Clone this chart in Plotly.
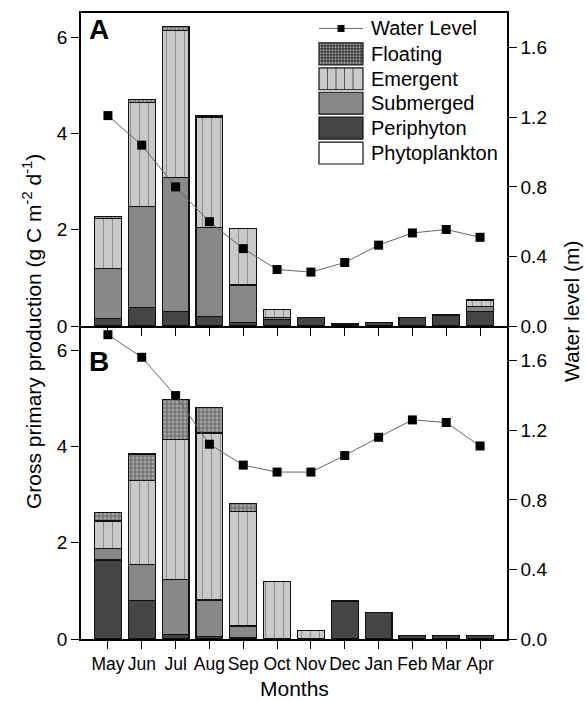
import plotly.graph_objects as go

# ---------------- data ----------------
months = ["May", "Jun", "Jul", "Aug", "Sep", "Oct", "Nov", "Dec", "Jan", "Feb", "Mar", "Apr"]

# Panel A
phyto_A = [0, 0, 0, 0, 0, 0, 0, 0, 0, 0, 0, 0]
peri_A = [0.16, 0.38, 0.30, 0.19, 0.08, 0.13, 0.18, 0.04, 0.08, 0.17, 0.23, 0.30]
sub_A = [1.03, 2.10, 2.78, 1.86, 0.77, 0.05, 0, 0, 0, 0, 0, 0.10]
emerg_A = [1.05, 2.16, 3.06, 2.28, 1.17, 0.17, 0, 0, 0, 0, 0, 0.14]
float_A = [0.03, 0.07, 0.08, 0.03, 0.01, 0, 0, 0, 0, 0, 0, 0]
water_A = [1.21, 1.04, 0.80, 0.60, 0.445, 0.325, 0.31, 0.365, 0.465, 0.535, 0.555, 0.51]

# Panel B
phyto_B = [0, 0, 0, 0, 0, 0, 0, 0, 0, 0, 0, 0]
peri_B = [1.64, 0.80, 0.10, 0.05, 0.03, 0, 0, 0.79, 0.55, 0.07, 0.07, 0.08]
sub_B = [0.24, 0.75, 1.14, 0.76, 0.24, 0, 0, 0, 0, 0, 0, 0]
emerg_B = [0.57, 1.74, 2.91, 3.47, 2.37, 1.20, 0.17, 0, 0, 0, 0, 0]
float_B = [0.18, 0.55, 0.82, 0.52, 0.18, 0, 0, 0, 0, 0, 0, 0]
water_B = [1.75, 1.62, 1.40, 1.12, 1.00, 0.96, 0.96, 1.055, 1.16, 1.26, 1.245, 1.11]

gpp_ticks = [0, 2, 4, 6]
wl_ticks = [0.0, 0.4, 0.8, 1.2, 1.6]

# ---------------- styles ----------------
FONT = "Arial, Liberation Sans, Helvetica, sans-serif"
C_PHYTO = "#ffffff"
C_PERI = "#454545"
C_SUB = "#888888"
C_EMERG = "#c9c9c9"
C_FLOAT_BG = "#a5a5a5"
C_FLOAT_FG = "#2a2a2a"
EDGE = dict(color="#111111", width=1.2)

W, H = 587, 701
L, R, T, B = 81, 507, 11, 639


def px(x):
    return (x - L) / (R - L)


def py(y):
    return (B - y) / (B - T)


fig = go.Figure()


def add_panel(xa, ya, ya_r, phyto, peri, sub, emerg, flo, water):
    fig.add_trace(go.Bar(x=months, y=phyto, name="Phytoplankton", xaxis=xa, yaxis=ya,
                         marker=dict(color=C_PHYTO, line=EDGE), showlegend=False))
    fig.add_trace(go.Bar(x=months, y=peri, name="Periphyton", xaxis=xa, yaxis=ya,
                         marker=dict(color=C_PERI, line=EDGE), showlegend=False))
    fig.add_trace(go.Bar(x=months, y=sub, name="Submerged", xaxis=xa, yaxis=ya,
                         marker=dict(color=C_SUB, line=EDGE), showlegend=False))
    fig.add_trace(go.Bar(x=months, y=emerg, name="Emergent", xaxis=xa, yaxis=ya,
                         marker=dict(color=C_EMERG, line=EDGE,
                                     pattern=dict(shape="|", fillmode="overlay", bgcolor=C_EMERG,
                                                  fgcolor="#555555", size=9, solidity=0.12)),
                         showlegend=False))
    fig.add_trace(go.Bar(x=months, y=flo, name="Floating", xaxis=xa, yaxis=ya,
                         marker=dict(color=C_FLOAT_BG, line=EDGE,
                                     pattern=dict(shape="+", fillmode="overlay", bgcolor=C_FLOAT_BG,
                                                  fgcolor=C_FLOAT_FG, size=4, solidity=0.5)),
                         showlegend=False))
    fig.add_trace(go.Scatter(x=months, y=water, name="Water Level", xaxis=xa, yaxis=ya_r,
                             mode="lines+markers",
                             line=dict(color="#666666", width=1),
                             marker=dict(symbol="square", size=9, color="black"),
                             showlegend=False))


add_panel("x2", "y3", "y4", phyto_A, peri_A, sub_A, emerg_A, float_A, water_A)
add_panel("x", "y", "y2", phyto_B, peri_B, sub_B, emerg_B, float_B, water_B)

axis_common = dict(showline=True, linecolor="black", linewidth=1.5, ticks="outside",
                   ticklen=8, tickwidth=1.3, tickcolor="black", showgrid=False, zeroline=False,
                   tickfont=dict(family=FONT, size=19, color="black"))

fig.update_layout(
    width=W, height=H,
    margin=dict(l=L, r=W - R, t=T, b=H - B),
    paper_bgcolor="white", plot_bgcolor="white",
    barmode="stack", bargap=0.21,
    font=dict(family=FONT, color="black"),
    showlegend=False,
    xaxis=dict(axis_common, domain=[0, 1], anchor="y", type="category", tickangle=0,
               tickfont=dict(family=FONT, size=17.5, color="black")),
    xaxis2=dict(axis_common, domain=[0, 1], anchor="y3", type="category", matches="x",
                showticklabels=False, mirror=True),
    yaxis=dict(axis_common, domain=[0, 0.5], anchor="x", range=[0, 6.5], tickvals=gpp_ticks),
    yaxis2=dict(axis_common, overlaying="y", side="right", anchor="x", range=[0, 1.8],
                tickvals=wl_ticks, tickformat=".1f"),
    yaxis3=dict(axis_common, domain=[0.5, 1], anchor="x2", range=[0, 6.5], tickvals=gpp_ticks),
    yaxis4=dict(axis_common, overlaying="y3", side="right", anchor="x2", range=[0, 1.8],
                tickvals=wl_ticks, tickformat=".1f"),
)

ann = []
shapes = []


def text_at(x, y, text, size, angle=0, xanchor="center", bold=False):
    ann.append(dict(x=px(x), y=py(y), xref="paper", yref="paper", showarrow=False,
                    textangle=angle, xanchor=xanchor, yanchor="middle",
                    text=("<b>%s</b>" % text) if bold else text,
                    font=dict(family=FONT, size=size, color="black")))


# axis titles
text_at(32, 331, "Gross primary production (g C m<sup>-2</sup> d<sup>-1</sup>)", 21, angle=-90)
text_at(571, 310, "Water level (m)", 21, angle=-90)
text_at(294, 689, "Months", 21)
# panel letters
text_at(99, 28, "A", 28, bold=True)
text_at(99, 361, "B", 28, bold=True)

# custom legend (panel A)
legend_items = ["Water Level", "Floating", "Emergent", "Submerged", "Periphyton", "Phytoplankton"]
row_y = [26.5, 52, 77, 101.5, 126.5, 151.5]
sx0, sx1 = 319, 363
for name, yc in zip(legend_items, row_y):
    text_at(369, yc, name, 20, xanchor="left")
    y0, y1 = yc - 11, yc + 11
    if name == "Water Level":
        shapes.append(dict(type="line", xref="paper", yref="paper", x0=px(sx0), x1=px(sx1),
                           y0=py(yc), y1=py(yc), line=dict(color="#666666", width=1)))
        shapes.append(dict(type="rect", xref="paper", yref="paper", x0=px(337.5), x1=px(344.5),
                           y0=py(yc - 3.5), y1=py(yc + 3.5), fillcolor="black",
                           line=dict(width=0)))
        continue
    fill = {"Floating": C_FLOAT_BG, "Emergent": C_EMERG, "Submerged": C_SUB,
            "Periphyton": C_PERI, "Phytoplankton": C_PHYTO}[name]
    shapes.append(dict(type="rect", xref="paper", yref="paper", x0=px(sx0), x1=px(sx1),
                       y0=py(y1), y1=py(y0), fillcolor=fill, line=dict(width=0)))
    if name == "Emergent":
        xx = sx0 + 8.5
        while xx < sx1 - 2:
            shapes.append(dict(type="line", xref="paper", yref="paper", x0=px(xx), x1=px(xx),
                               y0=py(y1), y1=py(y0), line=dict(color="#555555", width=1)))
            xx += 8.5
    if name == "Floating":
        xx = sx0 + 3
        while xx < sx1 - 1:
            shapes.append(dict(type="line", xref="paper", yref="paper", x0=px(xx), x1=px(xx),
                               y0=py(y1), y1=py(y0), line=dict(color=C_FLOAT_FG, width=1)))
            xx += 3
        yy = y0 + 3
        while yy < y1 - 1:
            shapes.append(dict(type="line", xref="paper", yref="paper", x0=px(sx0), x1=px(sx1),
                               y0=py(yy), y1=py(yy), line=dict(color=C_FLOAT_FG, width=1)))
            yy += 3
    shapes.append(dict(type="rect", xref="paper", yref="paper", x0=px(sx0), x1=px(sx1),
                       y0=py(y1), y1=py(y0), fillcolor="rgba(0,0,0,0)",
                       line=dict(color="#111111", width=1.2)))

fig.update_layout(annotations=ann, shapes=shapes)

fig.write_html("out.html", config={"displayModeBar": False},
               post_script="document.body.style.margin='0px';document.body.style.padding='0px';")
